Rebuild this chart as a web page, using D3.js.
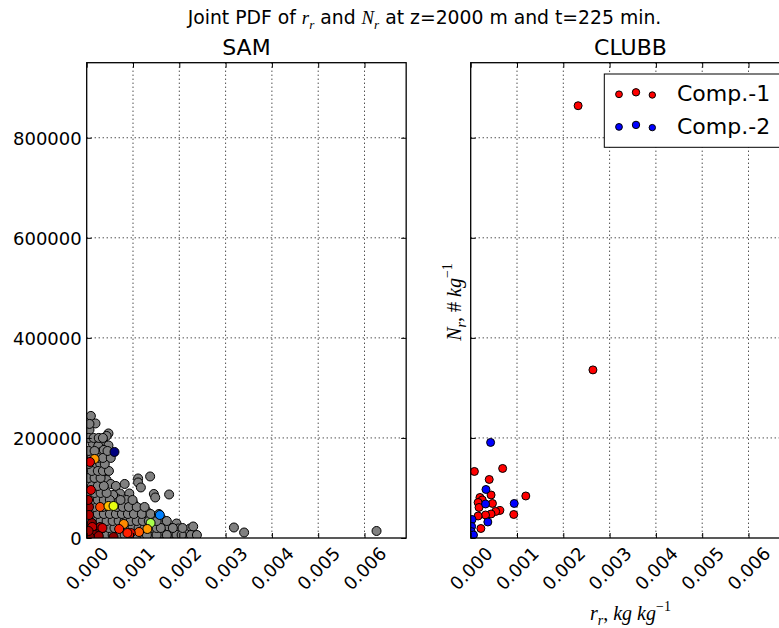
<!DOCTYPE html>
<html><head><meta charset="utf-8">
<script src="https://cdn.jsdelivr.net/npm/d3@7"></script>
<style>body{margin:0;background:#fff;overflow:hidden;} svg{display:block;}</style>
</head><body>
<svg id="chart" width="779" height="628"></svg>
<script>
// ---------------- data ----------------
const xTicks = [0, 0.001, 0.002, 0.003, 0.004, 0.005, 0.006];
const xTickLabels = ["0.000", "0.001", "0.002", "0.003", "0.004", "0.005", "0.006"];
const yTicks = [0, 200000, 400000, 600000, 800000];
const yTickLabels = ["0", "200000", "400000", "600000", "800000"];
const xMax = 0.0069;
const yMax = 950000;

// SAM: grey (background) samples [r_r, N_r]
const samGrey = [
  [0.00009,244000],[0.00019,229000],[0.00006,216000],[0.00047,209000],[0.00043,204000],
  [0.00035,193000],[0.00047,185000],[0.00013,189000],[0.00025,184000],[0.00029,171000],
  [0.00037,176000],[0.00044,164000],[0.00018,146000],[0.00029,149000],[0.00040,139000],
  [0.00022,129000],[0.00032,123000],[0.00013,116000],[0.00025,113000],[0.00043,116000],
  [0.00052,108000],[0.00063,104000],[0.00082,108000],[0.00092,89000],[0.00111,119000],
  [0.00137,123000],[0.00111,111000],[0.00117,101000],[0.00145,88000],[0.00148,81000],
  [0.00178,87000],[0.00072,89000],[0.00065,79000],[0.00086,76000],[0.00057,86000],
  [0.00101,69000],[0.00115,59000],[0.00130,53000],[0.00144,43000],[0.00165,36000],
  [0.00176,23000],[0.00194,29000],[0.00198,19000],[0.00223,19000],[0.00230,23000],
  [0.00214,8000],[0.00187,9000],[0.00165,9000],[0.00144,6000],[0.00122,6000],
  [0.00101,3000],[0.00318,21000],[0.00340,11000],[0.00626,14000],
  [0.00004,6000],[0.00017,6000],[0.00030,6000],[0.00043,6000],[0.00056,6000],[0.00069,6000],
  [0.00082,6000],[0.00095,6000],[0.00108,6000],[0.00130,6000],[0.00151,6000],[0.00173,6000],
  [0.00194,6000],[0.00205,6000],[0.00225,6000],[0.00238,6000],
  [0.00009,20000],[0.00022,20000],[0.00035,20000],[0.00048,20000],[0.00060,20000],[0.00073,20000],
  [0.00086,20000],[0.00099,20000],[0.00112,20000],[0.00125,20000],[0.00138,20000],[0.00151,20000],
  [0.00160,20000],[0.00186,20000],[0.00207,20000],
  [0.00004,34000],[0.00017,34000],[0.00030,34000],[0.00043,34000],[0.00056,34000],[0.00069,34000],
  [0.00082,34000],[0.00095,34000],[0.00108,34000],[0.00121,34000],[0.00134,34000],[0.00151,34000],
  [0.00173,34000],
  [0.00011,48000],[0.00024,48000],[0.00037,48000],[0.00050,48000],[0.00063,48000],[0.00076,48000],
  [0.00089,48000],[0.00102,48000],[0.00119,48000],[0.00138,48000],[0.00156,48000],
  [0.00004,62000],[0.00017,62000],[0.00035,62000],[0.00065,62000],[0.00078,62000],[0.00091,62000],
  [0.00108,62000],[0.00125,62000],
  [0.00011,76000],[0.00024,76000],[0.00037,76000],[0.00050,76000],[0.00073,76000],[0.00099,76000],
  [0.00004,90000],[0.00017,90000],[0.00030,90000],[0.00043,90000],
  [0.00011,104000],[0.00024,104000],[0.00037,104000],
  [0.00004,120000],[0.00017,120000],[0.00030,120000],
  [0.00011,134000],[0.00024,134000],[0.00035,134000],[0.00048,134000],
  [0.00004,148000],[0.00039,148000],
  [0.00011,160000],[0.00024,160000],[0.00035,160000],[0.00052,160000],
  [0.00004,174000],[0.00017,174000],[0.00045,174000],
  [0.00004,200000],[0.00015,200000],[0.00026,200000],[0.00035,200000],
  [0.00006,228000]
];

// SAM: coloured (PDF-weighted) samples
const samColRr = [0.00060,0.00017,0.00007,0.00009,0.00029,0.00047,0.00058,0.00158,0.00138,0.00080,
  0.00131,0.00113,0.00070,0.00095,0.00088,0.00058,0.00029,0.00020,0.00011,0.00005,
  0.00005,0.00012,0.00034,0.00017,0.00007,0.00026,0.00004,0.00003];
const samColNr = [172000,158000,152000,96000,62000,64000,64000,46000,30000,28000,
  18000,12000,18000,10000,10000,2000,22000,8000,30000,62000,
  46000,22000,20000,6000,2000,4000,14000,76000];
const samColColor = ["#00007f","#ff9a00","#e00000","#d40000","#ff4a00","#ffbf00","#e8ff10","#0080ff","#a8ff4e","#ff8a00",
  "#ff9a00","#ff5a00","#ff2000","#f01000","#ff2000","#8b0000","#a00000","#900000","#8b0000","#a00000",
  "#b00000","#c00000","#d00000","#8b0000","#800000","#9a0000","#a00000","#b40000"];

// CLUBB components
const comp1Rr = [0.00232,0.00264,0.00008,0.00069,0.00040,0.00044,0.00020,0.00025,0.00016,0.00047,
  0.00018,0.00119,0.00063,0.00054,0.00044,0.00032,0.00016,0.00093,0.00022];
const comp1Nr = [864000,336000,133000,139000,117000,86000,81000,76000,71000,69000,
  61000,84000,55000,53000,48000,46000,44000,47000,19000];
const comp2Rr = [0.00043,0.00033,0.00032,0.00094,0.00037,0.00003,0.00002,0.00001,0.00006];
const comp2Nr = [191000,97000,68000,69000,32000,37000,23000,13000,6000];

const legendLabels = ["Comp.-1", "Comp.-2"];
const compColors = ["#ff0000", "#0000ff"];

// ---------------- drawing ----------------
const svg = d3.select("#chart");
const SANS = "DejaVu Sans, sans-serif";
const SERIF = "Liberation Serif, DejaVu Serif, serif";

const plotTop = 62.7, plotBottom = 538;
const panels = [
  {name: "SAM", left: 86.7, ylabels: true},
  {name: "CLUBB", left: 470.7, ylabels: false}
];
const yScale = d3.scaleLinear().domain([0, yMax]).range([plotBottom, plotTop]);

function mathText(textSel, parts, fs) {
  let shift = 0;
  parts.forEach(p => {
    const ts = textSel.append("tspan").text(p.t);
    let target = 0;
    if (p.m) ts.attr("font-family", SERIF).attr("font-style", "italic");
    if (p.up) ts.attr("font-family", SERIF);
    if (p.sub) { ts.attr("font-size", fs * 0.7); target = fs * 0.25; }
    if (p.sup) { ts.attr("font-size", fs * 0.7); target = -fs * 0.45; }
    if (target !== shift) { ts.attr("dy", target - shift); shift = target; }
  });
}

panels.forEach((p, i) => {
  const x = d3.scaleLinear().domain([0, xMax]).range([p.left, p.left + xMax * 46300]);
  const right = x(xMax);
  const g = svg.append("g");
  const clipId = "clip" + i;
  svg.append("clipPath").attr("id", clipId).append("rect")
    .attr("x", p.left).attr("y", plotTop).attr("width", right - p.left).attr("height", plotBottom - plotTop);

  // grid
  const grid = g.append("g").attr("stroke", "#000").attr("stroke-width", 1).attr("stroke-dasharray", "1,3");
  grid.selectAll("line.v").data(xTicks.slice(1)).join("line")
    .attr("x1", d => x(d)).attr("x2", d => x(d)).attr("y1", plotTop).attr("y2", plotBottom);
  grid.selectAll("line.h").data(yTicks.slice(1)).join("line")
    .attr("y1", d => yScale(d)).attr("y2", d => yScale(d)).attr("x1", p.left).attr("x2", right);

  const pts = g.append("g").attr("clip-path", `url(#${clipId})`);
  if (i === 0) {
    pts.append("g").selectAll("circle").data(samGrey).join("circle")
      .attr("cx", d => x(d[0])).attr("cy", d => yScale(d[1])).attr("r", 4.5)
      .attr("fill", "#808080").attr("stroke", "#000").attr("stroke-width", 1);
    pts.append("g").selectAll("circle").data(samColRr.map((r, k) => [r, samColNr[k], samColColor[k]])).join("circle")
      .attr("cx", d => x(d[0])).attr("cy", d => yScale(d[1])).attr("r", 4.5)
      .attr("fill", d => d[2]).attr("stroke", "#000").attr("stroke-width", 1);
  } else {
    [[comp1Rr, comp1Nr, compColors[0]], [comp2Rr, comp2Nr, compColors[1]]].forEach(([xs, ys, c]) => {
      pts.append("g").selectAll("circle").data(xs.map((r, k) => [r, ys[k]])).join("circle")
        .attr("cx", d => x(d[0])).attr("cy", d => yScale(d[1])).attr("r", 4)
        .attr("fill", c).attr("stroke", "#000").attr("stroke-width", 1);
    });
  }

  // axes (inward ticks, all sides)
  const ax = svg.append("g");
  const bottomAx = ax.append("g").attr("transform", `translate(0,${plotBottom})`)
    .call(d3.axisBottom(x).tickValues(xTicks).tickSize(-5).tickFormat((d, k) => xTickLabels[k]));
  bottomAx.selectAll("text")
    .attr("y", 0).attr("dy", "0.35em")
    .attr("transform", "translate(0,30.5) rotate(-45)")
    .attr("text-anchor", "middle").attr("font-size", 18).attr("font-family", SANS).attr("fill", "#000");
  ax.append("g").attr("transform", `translate(0,${plotTop})`)
    .call(d3.axisTop(x).tickValues(xTicks).tickSize(-5).tickFormat(""));
  const leftAx = ax.append("g").attr("transform", `translate(${p.left},0)`)
    .call(d3.axisLeft(yScale).tickValues(yTicks).tickSize(-5).tickPadding(5)
      .tickFormat((d, k) => p.ylabels ? yTickLabels[k] : ""));
  leftAx.selectAll("text").attr("font-size", 18).attr("font-family", SANS).attr("fill", "#000").attr("dy", "0.35em");
  ax.append("g").attr("transform", `translate(${right},0)`)
    .call(d3.axisRight(yScale).tickValues(yTicks).tickSize(-5).tickFormat(""));
  ax.selectAll(".domain").remove();
  ax.selectAll(".tick line").attr("stroke", "#000").attr("stroke-width", 1);

  // spines
  svg.append("rect").attr("x", p.left).attr("y", plotTop).attr("width", right - p.left).attr("height", plotBottom - plotTop)
    .attr("fill", "none").attr("stroke", "#000").attr("stroke-width", 1.3);

  // subplot title
  svg.append("text").attr("x", (p.left + right) / 2).attr("y", 55).attr("text-anchor", "middle")
    .attr("font-family", SANS).attr("font-size", 22).attr("fill", "#000").text(p.name);

  if (i === 1) {
    // axis labels
    const xl = svg.append("text").attr("x", (p.left + right) / 2).attr("y", 620).attr("text-anchor", "middle")
      .attr("font-size", 20).attr("fill", "#000").attr("font-family", SERIF);
    mathText(xl, [{t: "r", m: 1}, {t: "r", m: 1, sub: 1}, {t: ", ", up: 1}, {t: "kg kg", m: 1}, {t: "−1", up: 1, sup: 1}], 20);
    const yl = svg.append("text").attr("transform", "translate(461,302) rotate(-90)").attr("text-anchor", "middle")
      .attr("font-size", 20).attr("fill", "#000").attr("font-family", SERIF);
    mathText(yl, [{t: "N", m: 1}, {t: "r", m: 1, sub: 1}, {t: ", # ", up: 1}, {t: "kg", m: 1}, {t: "−1", up: 1, sup: 1}], 20);

    // legend
    const lg = svg.append("g");
    lg.append("rect").attr("x", 604.3).attr("y", 74).attr("width", 220).attr("height", 73.3)
      .attr("fill", "#fff").attr("stroke", "#000").attr("stroke-width", 1);
    const offs = [[619, 0, 3.4], [636, -2, 3.7], [652.3, 0.7, 3.2]];
    legendLabels.forEach((lab, k) => {
      const cy = 94.3 + k * 32.6;
      lg.append("g").selectAll("circle").data(offs).join("circle")
        .attr("cx", d => d[0]).attr("cy", d => cy + d[1]).attr("r", d => d[2])
        .attr("fill", compColors[k]).attr("stroke", "#000").attr("stroke-width", 1);
      lg.append("text").attr("x", 677).attr("y", cy + 6.5 + (k ? 0.3 : 0)).attr("font-family", SANS)
        .attr("font-size", 22).attr("fill", "#000").text(lab);
    });
  }
});

// figure title
const title = svg.append("text").attr("x", 424.5).attr("y", 24).attr("text-anchor", "middle")
  .attr("font-family", SANS).attr("font-size", 18.8).attr("fill", "#000");
mathText(title, [
  {t: "Joint PDF of "}, {t: "r", m: 1}, {t: "r", m: 1, sub: 1}, {t: " and "},
  {t: "N", m: 1}, {t: "r", m: 1, sub: 1}, {t: " at z=2000 m and t=225 min."}
], 18.8);
</script>
</body></html>
